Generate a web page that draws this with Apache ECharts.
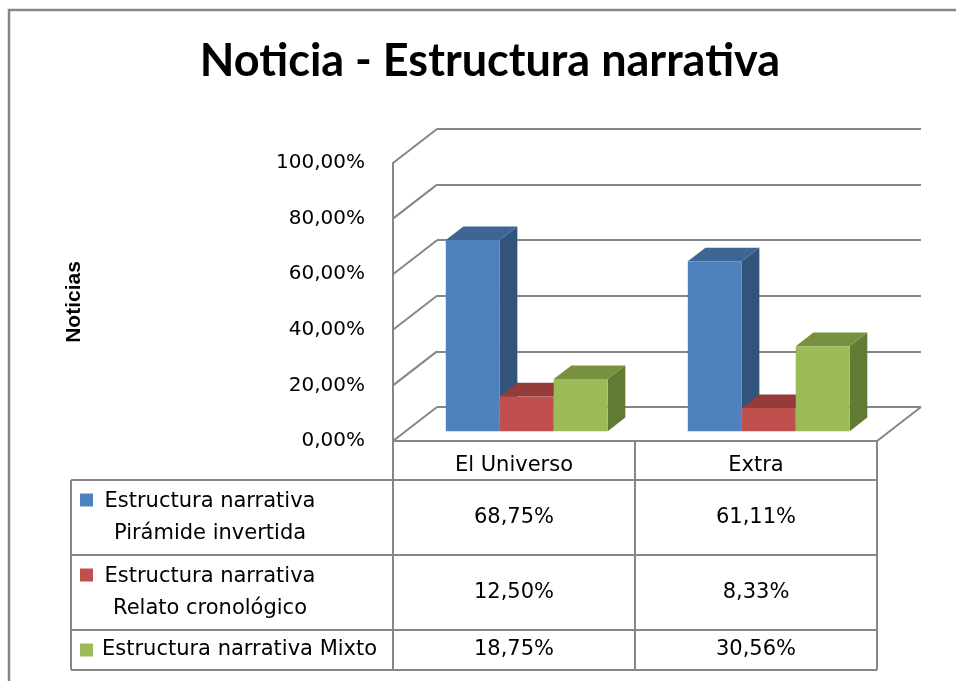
<!DOCTYPE html>
<html>
<head>
<meta charset="utf-8">
<script src="https://cdn.jsdelivr.net/npm/echarts@6/dist/echarts.min.js"></script>
<style>
  html, body { margin: 0; padding: 0; background: #fff; }
  #chart { width: 956px; height: 681px; }
</style>
</head>
<body>
<div id="chart"></div>
<script>
// data
const categories = ['El Universo', 'Extra']
const seriesNames = [
  'Estructura narrativa Pirámide invertida',
  'Estructura narrativa Relato cronológico',
  'Estructura narrativa Mixto'
]
const piramide = [0.6875, 0.6111]
const relato = [0.125, 0.0833]
const mixto = [0.1875, 0.3056]
const yTicks = [0, 0.2, 0.4, 0.6, 0.8, 1]

const values = [piramide, relato, mixto]
const colors = [
  { front: '#4F81BD', top: '#3E6594', side: '#32537B' },
  { front: '#C0504D', top: '#953B39', side: '#7F302E' },
  { front: '#9BBB59', top: '#77913F', side: '#637A35' }
]

// layout of the 3d box (front plane + depth offset to back wall)
const front = { left: 393, top: 163, width: 484, height: 278 }
const depth = [44, -34]
const barFront = 0.29
const barDepth = 0.40
const barFrac = 0.223
const gridColor = '#868686'
const txtFont = 'DejaVu Sans'

const fmt = v => (v * 100).toFixed(2).replace('.', ',') + '%'

function barItem(s) {
  return function (params, api) {
    const cat = api.value(0)
    const base = api.coord([cat, 0])
    const top = api.coord([cat, api.value(1)])
    const bw = api.size([1, 0])[0]
    const w = bw * barFrac
    const x = base[0] + depth[0] * barFront - 1.5 * w + s * w
    const by = base[1] + depth[1] * barFront
    const ty = top[1] + depth[1] * barFront
    const dx = depth[0] * barDepth
    const dy = depth[1] * barDepth
    const c = colors[s]
    return {
      type: 'group',
      children: [
        {
          type: 'polygon',
          shape: { points: [[x + w, ty], [x + w + dx, ty + dy], [x + w + dx, by + dy], [x + w, by]] },
          style: { fill: c.side }
        },
        {
          type: 'polygon',
          shape: { points: [[x, ty], [x + dx, ty + dy], [x + w + dx, ty + dy], [x + w, ty]] },
          style: { fill: c.top }
        },
        {
          type: 'rect',
          shape: { x: x, y: ty, width: w, height: by - ty },
          style: { fill: c.front }
        }
      ]
    }
  }
}

function wallItem(params, api) {
  const v = api.value(1)
  const p = api.coord([0, v])
  const bw = api.size([1, 0])[0]
  const x0 = p[0] - bw / 2
  const lineStyle = { stroke: gridColor, lineWidth: 2 }
  const children = [{
    type: 'line',
    shape: { x1: x0, y1: p[1], x2: x0 + depth[0], y2: p[1] + depth[1] },
    style: lineStyle
  }]
  if (v === 0) {
    const xr = api.coord([categories.length - 1, 0])[0] + bw / 2
    children.push({
      type: 'line',
      shape: { x1: xr, y1: p[1], x2: xr + depth[0], y2: p[1] + depth[1] },
      style: lineStyle
    })
  }
  return { type: 'group', children }
}

// data table under the plot
function tableGraphics() {
  const els = []
  const tLeft = 71
  const right = front.left + front.width
  const rows = [480, 555, 630, 670]
  const colW = front.width / categories.length
  const line = (x1, y1, x2, y2) => els.push({
    type: 'line',
    shape: { x1, y1, x2, y2 },
    style: { stroke: gridColor, lineWidth: 2 }
  })
  rows.forEach(y => line(tLeft, y, right, y))
  line(tLeft, rows[0], tLeft, rows[rows.length - 1])
  for (let i = 0; i <= categories.length; i++) {
    const x = front.left + i * colW
    line(x, rows[0], x, rows[rows.length - 1])
  }
  seriesNames.forEach((name, s) => {
    const y0 = rows[s]
    const y1 = rows[s + 1]
    const mid = (y0 + y1) / 2
    const words = name.split(' ')
    const twoLines = name.length > 28
    const keyY = twoLines ? y0 + 20 : mid
    els.push({
      type: 'rect',
      shape: { x: 80, y: keyY - 6.5, width: 13, height: 13 },
      style: { fill: colors[s].front }
    })
    els.push({
      type: 'text',
      x: twoLines ? 210 : 102,
      y: mid,
      style: {
        text: twoLines ? words.slice(0, 2).join(' ') + '\n' + words.slice(2).join(' ') : name,
        fill: '#000',
        font: '21px "' + txtFont + '"',
        lineHeight: 32,
        align: twoLines ? 'center' : 'left',
        verticalAlign: 'middle'
      }
    })
    categories.forEach((c, k) => {
      els.push({
        type: 'text',
        x: front.left + (k + 0.5) * colW,
        y: mid,
        style: {
          text: fmt(values[s][k]),
          fill: '#000',
          font: '21px "' + txtFont + '"',
          align: 'center',
          verticalAlign: 'middle'
        }
      })
    })
  })
  return els
}

const chart = echarts.init(document.getElementById('chart'))

const option = {
  animation: false,
  backgroundColor: '#fff',
  grid: [
    { left: front.left, top: front.top, width: front.width, height: front.height },
    { left: front.left + depth[0], top: front.top + depth[1], width: front.width, height: front.height }
  ],
  xAxis: [
    {
      type: 'category',
      gridIndex: 0,
      data: categories,
      axisLine: { lineStyle: { color: gridColor, width: 2 } },
      axisTick: { show: true, length: 39, interval: 0, lineStyle: { color: gridColor, width: 2 } },
      axisLabel: { margin: 14, fontSize: 21, color: '#000', fontFamily: txtFont, interval: 0 }
    },
    { type: 'category', gridIndex: 1, data: categories, show: false }
  ],
  yAxis: [
    {
      type: 'value',
      gridIndex: 0,
      min: 0,
      max: 1,
      interval: 0.2,
      axisLine: { show: true, lineStyle: { color: gridColor, width: 2 } },
      axisTick: { show: false },
      splitLine: { show: false },
      axisLabel: { margin: 28, fontSize: 20, color: '#000', fontFamily: txtFont, formatter: fmt },
      name: 'Noticias',
      nameLocation: 'middle',
      nameGap: 308,
      nameTextStyle: { fontSize: 21, fontWeight: 'bold', color: '#000', fontFamily: 'Liberation Sans' }
    },
    {
      type: 'value',
      gridIndex: 1,
      min: 0,
      max: 1,
      interval: 0.2,
      axisLine: { show: false },
      axisTick: { show: false },
      axisLabel: { show: false },
      splitLine: { show: true, lineStyle: { color: gridColor, width: 2 } }
    }
  ],
  series: [
    {
      type: 'custom',
      name: 'walls',
      xAxisIndex: 0,
      yAxisIndex: 0,
      silent: true,
      renderItem: wallItem,
      data: yTicks.map(v => [0, v])
    }
  ].concat(values.map((vals, s) => ({
    type: 'custom',
    name: seriesNames[s],
    xAxisIndex: 0,
    yAxisIndex: 0,
    renderItem: barItem(s),
    data: vals.map((v, i) => [i, v])
  }))),
  graphic: [
    {
      type: 'rect',
      shape: { x: 9, y: 10, width: 1200, height: 1000 },
      style: { fill: 'none', stroke: gridColor, lineWidth: 2.5 },
      silent: true
    },
    {
      type: 'text',
      x: 490,
      y: 61,
      style: {
        text: 'Noticia - Estructura narrativa',
        fill: '#000',
        font: 'bold 45px Lato',
        align: 'center',
        verticalAlign: 'middle'
      }
    }
  ].concat(tableGraphics())
}

chart.setOption(option)
</script>
</body>
</html>
